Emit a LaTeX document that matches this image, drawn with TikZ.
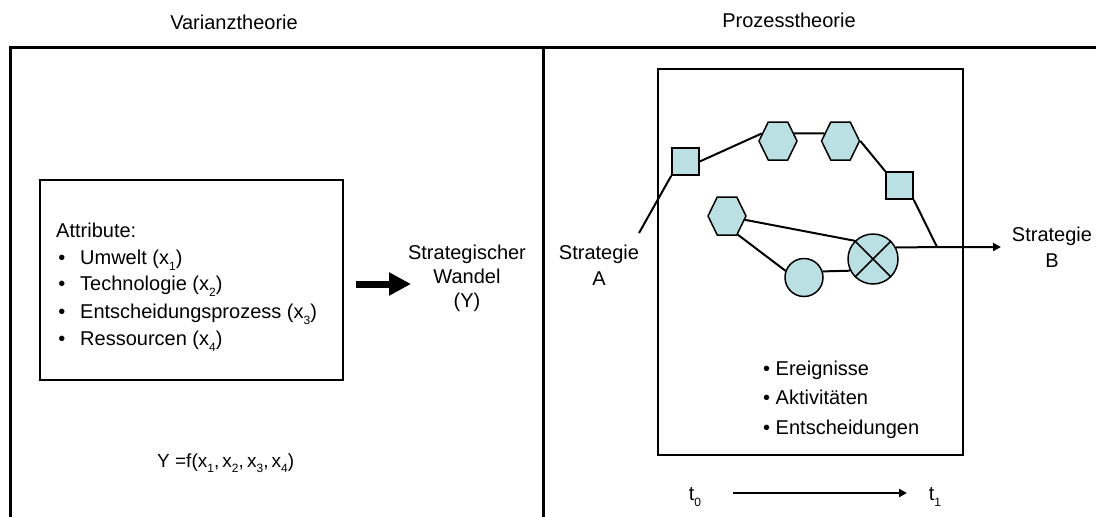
\documentclass[tikz,border=0pt]{standalone}
\usepackage{fontspec}
\setmainfont{Liberation Sans}
\usetikzlibrary{shapes.geometric,shapes.symbols,arrows.meta}
\definecolor{shapefill}{RGB}{187,224,227}
\newcommand\subidx[1]{\raisebox{-0.3em}{\fontsize{12}{12}\selectfont #1}}
\begin{document}
\begin{tikzpicture}[x=1pt,y=-1pt,
  txt/.style={font=\fontsize{20}{26}\selectfont, inner sep=0pt},
  frame/.style={line width=3pt},
  panel/.style={line width=2pt},
  link/.style={line width=2pt},
  shapebase/.style={draw, line width=1.5pt, fill=shapefill, inner sep=0pt},
  hexa/.style={shapebase, signal, signal to=east and west, signal pointer angle=128,
    minimum width=38pt, minimum height=38pt},
  sq/.style={shapebase, rectangle, minimum size=27pt},
  rnd/.style={shapebase, circle, minimum size=38pt},
  xrnd/.style={shapebase, circle, minimum size=50pt},
  smallarrow/.style={link, -{Triangle[length=8pt,width=8pt]}},
]
\useasboundingbox (0,0) rectangle (1096,517);

% headings
\node[txt] (hvar) at (234,22) {Varianztheorie};
\node[txt] (hproc) at (789,20) {Prozesstheorie};

% outer frame and divider
\draw[frame] (10,517) -- (10,47) -- (1096,47);
\draw[frame] (543,47) -- (543,517);

% ---------- variance theory ----------
\node[panel, draw, rectangle, minimum width=303pt, minimum height=200pt, inner sep=0pt]
  (attrbox) at (191.5,280) {};
\node[txt, anchor=base west] (attrhead) at (56,237) {Attribute:};
\node[txt, anchor=base] (b1) at (62,264) {•};
\node[txt, anchor=base west] (a1) at (80,264) {Umwelt (x\subidx{1})};
\node[txt, anchor=base] (b2) at (62,290) {•};
\node[txt, anchor=base west] (a2) at (80,290) {Technologie (x\subidx{2})};
\node[txt, anchor=base] (b3) at (62,318) {•};
\node[txt, anchor=base west] (a3) at (80,318) {Entscheidungsprozess (x\subidx{3})};
\node[txt, anchor=base] (b4) at (62,345) {•};
\node[txt, anchor=base west] (a4) at (80,345) {Ressourcen (x\subidx{4})};

\node[txt, align=center, font=\fontsize{20}{24}\selectfont] (wandel) at (467,278)
  {Strategischer\\Wandel\\(Y)};

\coordinate (thickstart) at (356,284);
\coordinate (thickend) at (411,284);
\draw[line width=7pt, -{Triangle[length=22pt,width=22pt]}] (thickstart) -- (thickend);

\node[txt, anchor=base west, font=\fontsize{19}{26}\selectfont] (formula) at (157,467)
  {Y =f(x\subidx{1},\,x\subidx{2},\,x\subidx{3},\,x\subidx{4})};

% ---------- process theory ----------
\draw[panel] (658,69) rectangle (963,455);

\node[sq]   (s1) at (685.5,161.5) {};
\node[hexa] (h1) at (778,141) {};
\node[hexa] (h2) at (840.5,141) {};
\node[sq]   (s2) at (899.5,185.5) {};
\node[hexa] (h3) at (727,216) {};
\node[rnd]  (c1) at (804,277.5) {};
\node[xrnd] (xc) at (873,259) {};
\draw[line width=1.5pt] (xc.45) -- (xc.225) (xc.135) -- (xc.315);

\coordinate (startA) at (639,233);
\coordinate (join) at (937,247);
\coordinate (endB) at (1001,247);

\draw[link] (startA) -- (s1.south west);
\draw[link] (s1.east) -- (h1.155);
\draw[link] (h1.25) -- (h2.155);
\draw[link] (h2.east) -- (s2.north west);
\draw[link] (s2.south east) -- (join);
\draw[link] (h3.-12) -- (xc.135);
\draw[link] (h3.-60) -- (c1.160);
\draw[link] (c1.18) -- (xc.207);
\draw[smallarrow] (xc.27) -- (endB);

\node[txt, align=center] (stratA) at (599,265) {Strategie\\A};
\node[txt, align=center] (stratB) at (1052,247.5) {Strategie\\B};

\node[txt, anchor=base west] (e1) at (763,375) {• Ereignisse};
\node[txt, anchor=base west] (e2) at (763,404) {• Aktivitäten};
\node[txt, anchor=base west] (e3) at (763,434) {• Entscheidungen};

% time axis
\node[txt, anchor=base] (t0) at (695,500) {t\subidx{0}};
\node[txt, anchor=base] (t1) at (935,500) {t\subidx{1}};
\coordinate (tstart) at (733,493);
\coordinate (tend) at (907,493);
\draw[smallarrow] (tstart) -- (tend);
\end{tikzpicture}
\end{document}
